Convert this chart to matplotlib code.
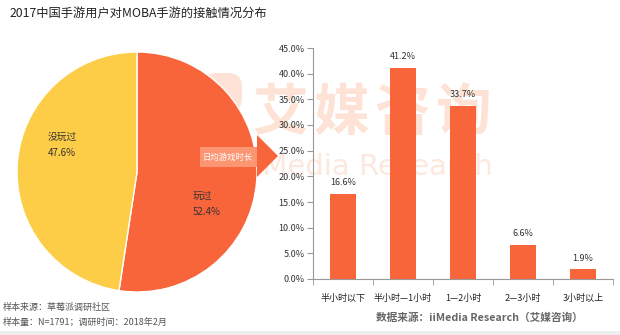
import matplotlib
matplotlib.use("Agg")
import matplotlib.pyplot as plt
from matplotlib.patches import Polygon, Rectangle, FancyBboxPatch

plt.rcParams['font.family'] = ['Noto Sans CJK SC', 'DejaVu Sans']

# data
pie_labels = ['玩过', '没玩过']
pie_values = [52.4, 47.6]
bar_cats = ['半小时以下', '半小时—1小时', '1—2小时', '2—3小时', '3小时以上']
bar_values = [16.6, 41.2, 33.7, 6.6, 1.9]
y_ticks = [0, 5, 10, 15, 20, 25, 30, 35, 40, 45]

orange = '#F9653A'
yellow = '#FDCD48'
wm = '#FDE2D5'
W, H = 620, 335

fig = plt.figure(figsize=(6.2, 3.35), dpi=100)
fig.patch.set_facecolor('white')

def px(x, y):
    # pixel (top-left origin) -> figure fraction
    return x / W, 1 - y / H

# background axes for the watermark and gray strip
bg = fig.add_axes([0, 0, 1, 1], zorder=-1)
bg.set_xlim(0, W)
bg.set_ylim(H, 0)
bg.axis('off')
bg.add_patch(Rectangle((0, 331), W, 4, facecolor='#EEEEEE', edgecolor='none'))
bg.add_patch(FancyBboxPatch((204, 75), 36, 35, boxstyle='round,pad=2,rounding_size=14',
                            facecolor=wm, edgecolor='none'))
for i, ch in enumerate('艾媒咨询'):
    bg.text(280 + i * 61, 114, ch, fontsize=40, color=wm, ha='center',
            va='center', fontweight='bold')
bg.text(493, 167, 'iiMedia Research', fontsize=21, color='#FDE8DE',
        ha='right', va='center', family='DejaVu Sans')

# pie
ax_pie = fig.add_axes([17 / W, 43 / H, 240 / W, 240 / H])
ax_pie.pie(pie_values, colors=[orange, yellow], startangle=90, counterclock=False,
           wedgeprops=dict(edgecolor='white', linewidth=1))
ax_pie.set_xlim(-1, 1)
ax_pie.set_ylim(-1, 1)
ax_pie.set_aspect('equal')
ax_pie.axis('off')

fig.text(*px(48, 137), pie_labels[1], fontsize=7, color='#333333', va='center')
fig.text(*px(48, 153), '%.1f%%' % pie_values[1], fontsize=7, color='#333333', va='center')
fig.text(*px(193, 196), pie_labels[0], fontsize=7, color='#333333', va='center')
fig.text(*px(193, 212), '%.1f%%' % pie_values[0], fontsize=7, color='#333333', va='center')

# arrow label
x0, y0 = px(200, 167)
fig.patches.append(Rectangle((x0, y0), 58 / W, 20 / H, transform=fig.transFigure,
                             facecolor='#FB9572', edgecolor='none', zorder=3))
tri = [px(257, 135), px(257, 177), px(278, 156)]
fig.patches.append(Polygon(tri, closed=True, transform=fig.transFigure,
                           facecolor=orange, edgecolor='none', zorder=3))
fig.text(*px(228, 157), '日均游戏时长', fontsize=6, color='white',
         ha='center', va='center', zorder=4)

# bars
ax = fig.add_axes([313 / W, 56 / H, 300 / W, 231 / H])
ax.patch.set_alpha(0)
xs = range(len(bar_cats))
ax.bar(xs, bar_values, width=0.42, color=orange, zorder=2)
for x, v in zip(xs, bar_values):
    ax.text(x, v + 1.3, '%.1f%%' % v, ha='center', va='bottom', fontsize=6.5,
            color='#333333')
ax.set_xlim(-0.5, 4.5)
ax.set_ylim(0, 45)
ax.set_yticks(y_ticks)
ax.set_yticklabels(['%.1f%%' % t for t in y_ticks])
ax.set_xticks(xs)
ax.set_xticklabels(bar_cats)
ax.set_xticks([i + 0.5 for i in range(-1, 5)], minor=True)
ax.tick_params(axis='x', which='major', length=0, pad=11, labelsize=6.5,
               labelcolor='#222222')
ax.tick_params(axis='x', which='minor', length=4, color='#999999', direction='out')
ax.tick_params(axis='y', length=4, color='#999999', labelsize=6.5,
               labelcolor='#333333', pad=2)
for s in ['top', 'right']:
    ax.spines[s].set_visible(False)
for s in ['left', 'bottom']:
    ax.spines[s].set_color('#999999')
    ax.spines[s].set_linewidth(0.8)

# titles and notes
fig.text(*px(10, 14), '2017中国手游用户对MOBA手游的接触情况分布', fontsize=8.8,
         color='#222222', va='center')
fig.text(*px(3, 307), '样本来源：草莓派调研社区', fontsize=6.5, color='#555555', va='center')
fig.text(*px(3, 322), '样本量：N=1791；调研时间：2018年2月', fontsize=6.5,
         color='#555555', va='center')
fig.text(*px(376, 318), '数据来源：iiMedia Research（艾媒咨询）', fontsize=7.7,
         color='#666666', va='center', fontweight='bold')

fig.savefig('out.png', dpi=100, facecolor='white')
